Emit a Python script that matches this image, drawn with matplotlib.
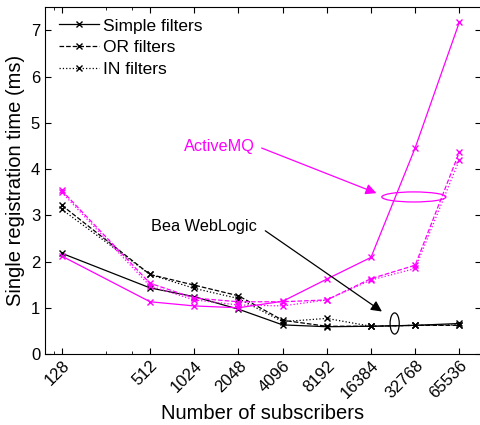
import numpy as np
import matplotlib
matplotlib.use('Agg')
import matplotlib.pyplot as plt
from matplotlib.patches import Ellipse
from matplotlib.ticker import FixedLocator, NullFormatter

plt.rcParams['font.family'] = ['Liberation Sans', 'DejaVu Sans']
plt.rcParams['font.size'] = 12

# subscribers (x axis, log2)
subs = [128, 512, 1024, 2048, 4096, 8192, 16384, 32768, 65536]

# Bea WebLogic, ms per registration
bea_simple = [2.18, 1.43, 1.24, 0.97, 0.63, 0.59, 0.60, 0.62, 0.66]
bea_or     = [3.22, 1.72, 1.49, 1.26, 0.73, 0.60, 0.60, 0.62, 0.62]
bea_in     = [3.13, 1.72, 1.42, 1.20, 0.70, 0.77, 0.60, 0.62, 0.63]

# ActiveMQ, ms per registration
amq_simple = [2.12, 1.13, 1.04, 1.00, 1.14, 1.62, 2.09, 4.46, 7.18]
amq_or     = [3.54, 1.53, 1.21, 1.13, 1.13, 1.17, 1.63, 1.92, 4.37]
amq_in     = [3.50, 1.47, 1.17, 1.06, 1.04, 1.17, 1.60, 1.85, 4.20]

mag = '#ff00ff'

fig = plt.figure(figsize=(4.81, 4.25), dpi=100)
ax = fig.add_axes([45/481, 71/425, 436/481, 346.7/425])

ax.plot(subs, bea_simple, '-', color='k', marker='x', ms=5, lw=0.9, label='Simple filters')
ax.plot(subs, bea_or, '--', color='k', marker='x', ms=5, lw=0.9, label='OR filters')
ax.plot(subs, bea_in, ':', color='k', marker='x', ms=5, lw=0.9, label='IN filters')
ax.plot(subs, amq_simple, '-', color=mag, marker='x', ms=5, lw=0.9)
ax.plot(subs, amq_or, '--', color=mag, marker='x', ms=5, lw=0.9)
ax.plot(subs, amq_in, ':', color=mag, marker='x', ms=5, lw=0.9)

ax.set_xscale('log', base=2)
ax.set_xlim(98.6, 92000)
ax.set_ylim(0, 7.5)
ax.set_xticks(subs)
ax.set_xticklabels([str(s) for s in subs], rotation=45, ha='right', rotation_mode='anchor')
ax.xaxis.set_minor_locator(FixedLocator([113, 256, 384]))
ax.xaxis.set_minor_formatter(NullFormatter())
ax.set_yticks(range(8))
ax.tick_params(direction='in', top=True, right=True, which='both', labelsize=12)
ax.tick_params(which='major', length=4)
ax.tick_params(which='minor', length=2)
ax.tick_params(axis='x', pad=3)
ax.set_xlabel('Number of subscribers', fontsize=14.5, labelpad=2)
ax.set_ylabel('Single registration time (ms)', fontsize=14.5, labelpad=4)

leg = ax.legend(loc='upper left', bbox_to_anchor=(0.016, 0.988), frameon=False,
                handlelength=2.3, fontsize=12.5, borderaxespad=0.2, borderpad=0.2,
                labelspacing=0.385, handletextpad=0.25)

# annotations
ax.text(0.482, 0.598, 'ActiveMQ', color=mag, transform=ax.transAxes, ha='right', va='center', fontsize=11.7)
ax.annotate('', xy=(0.766, 0.461), xytext=(0.491, 0.597), xycoords='axes fraction',
            arrowprops=dict(arrowstyle='-|>', color=mag, lw=0.9, mutation_scale=16))
ax.add_patch(Ellipse((0.846, 0.453), 0.147, 0.029, transform=ax.transAxes,
                     fill=False, edgecolor=mag, lw=0.9))

ax.text(0.486, 0.367, 'Bea WebLogic', color='k', transform=ax.transAxes, ha='right', va='center', fontsize=11.7)
ax.annotate('', xy=(0.778, 0.118), xytext=(0.5, 0.36), xycoords='axes fraction',
            arrowprops=dict(arrowstyle='-|>', color='k', lw=0.9, mutation_scale=16))
ax.add_patch(Ellipse((0.802, 0.088), 0.021, 0.061, transform=ax.transAxes,
                     fill=False, edgecolor='k', lw=0.9))

fig.savefig('out.png', dpi=100)
